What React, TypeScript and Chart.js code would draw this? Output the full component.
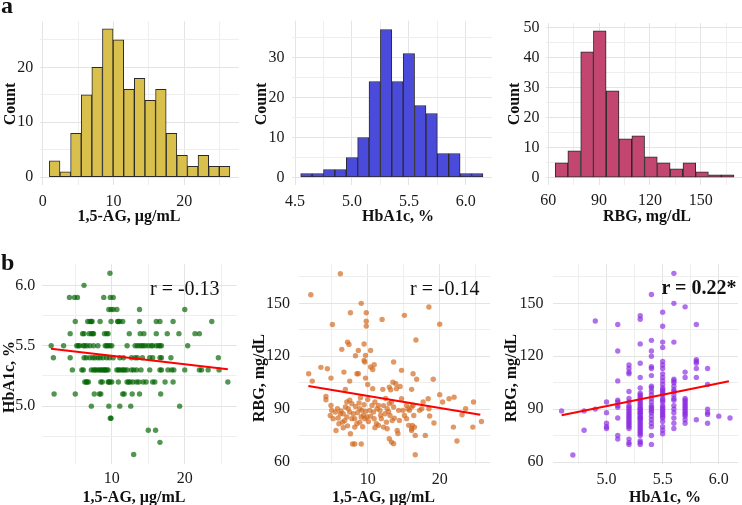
import React, { useEffect, useRef } from "react";
import { Chart, registerables } from "chart.js";

Chart.register(...registerables);

// ---------------- DATA ----------------
// Panel a: histograms (bin centres and counts)
const agBinCenters = [1.69, 3.19, 4.69, 6.19, 7.69, 9.19, 10.69, 12.19, 13.69, 15.19, 16.69, 18.19, 19.69, 21.19, 22.69, 24.19, 25.69];
const agCounts = [3, 1, 8, 15, 20, 27, 25, 16, 18, 14, 16, 8, 4, 2, 4, 2, 2];

const hbBinCenters = [4.6, 4.7, 4.8, 4.9, 5.0, 5.1, 5.2, 5.3, 5.4, 5.5, 5.6, 5.7, 5.8, 5.9, 6.0, 6.1];
const hbCounts = [1, 1, 2, 2, 5, 10, 24, 37, 24, 31, 18, 16, 6, 6, 1, 1];

const rbgBinCenters = [67.8, 75.3, 82.9, 90.4, 98.0, 105.5, 113.1, 120.6, 128.2, 135.7, 143.3, 150.8, 158.4, 165.9];
const rbgCounts = [5, 9, 42, 49, 29, 13, 14, 7, 5, 3, 5, 2, 1, 1];

// Panel b1: HbA1c level -> 1,5-AG values
const b1Rows: [number, number[]][] = [
  [6.1, [9.75]],
  [6.0, [6.2]],
  [5.9, [4.2, 4.9, 5.3, 8.9, 9.8, 10.2]],
  [5.8, [9.6, 9.9, 10.2, 10.7, 13.8, 20.0]],
  [5.7, [5.0, 6.7, 7.0, 7.2, 7.3, 8.4, 9.9, 10.8, 10.9, 11.1, 11.5, 13.8, 16.1, 16.6, 18.4, 23.7]],
  [5.6, [4.3, 6.0, 6.2, 6.9, 7.2, 7.4, 7.5, 9.0, 9.3, 9.5, 12.4, 13.9, 14.4, 16.1, 17.6, 19.2, 21.4, 22.0]],
  [5.5, [1.7, 3.4, 5.2, 5.4, 5.6, 6.1, 6.3, 6.6, 7.0, 7.5, 8.1, 9.1, 9.3, 9.5, 9.75, 10.0, 12.1, 13.2, 13.5, 13.8, 14.1, 14.3, 14.6, 15.0, 15.4, 15.6, 16.1, 16.4, 16.6, 16.8, 20.4]],
  [5.4, [2.0, 4.3, 6.2, 6.5, 7.0, 7.4, 7.7, 8.1, 8.4, 8.8, 9.3, 9.7, 10.2, 11.1, 11.6, 12.7, 13.2, 13.5, 14.2, 15.2, 15.6, 16.6, 16.8, 18.1, 24.6]],
  [5.3, [4.6, 5.9, 6.1, 7.2, 7.5, 7.7, 7.9, 8.2, 8.4, 8.6, 8.8, 9.0, 9.1, 9.3, 9.5, 10.7, 10.9, 11.1, 11.4, 11.6, 11.8, 12.1, 12.7, 13.0, 13.4, 14.0, 15.2, 16.6, 16.8, 17.7, 18.2, 18.5, 20.0, 22.0, 22.3, 23.2, 24.7]],
  [5.2, [6.3, 6.5, 6.6, 6.8, 8.5, 8.7, 9.5, 9.6, 9.75, 10.0, 10.9, 12.1, 12.3, 12.5, 12.9, 13.4, 13.7, 14.3, 14.7, 15.6, 15.9, 17.3, 18.4, 25.9]],
  [5.1, [2.1, 5.0, 7.6, 8.3, 8.5, 11.5, 11.7, 12.8, 13.8, 16.7]],
  [5.0, [7.2, 9.6, 11.1, 12.6, 19.3]],
  [4.9, [9.8, 9.9]],
  [4.8, [15.0, 16.0]],
  [4.7, [16.6]],
  [4.6, [13.0]],
];
const b1Fit: [number, number][] = [[1.67, 5.475], [25.9, 5.306]];

// Panel b2: (1,5-AG, RBG)
const b2Points: [number, number][] = [
  [6.2, 166.8], [2.1, 154.9], [9.1, 150.0], [7.6, 144.7], [9.8, 144.7], [5.1, 138.0], [9.8, 139.8], [9.8, 137.1], [12.0, 140.9],
  [7.2, 128.0], [7.4, 126.7], [9.5, 126.9], [6.4, 123.9], [8.7, 123.3], [10.4, 123.3], [8.3, 120.3], [9.7, 120.5], [9.5, 117.6],
  [9.6, 116.7], [10.9, 115.2], [10.4, 113.9], [10.7, 112.5], [13.6, 116.7],
  [1.8, 110.1], [3.5, 113.7], [4.4, 112.9], [6.7, 111.0], [8.5, 110.1], [8.7, 110.1], [4.9, 107.6], [7.5, 105.9], [9.7, 107.6],
  [10.0, 104.0], [10.7, 101.6], [12.1, 101.2], [2.3, 105.9], [6.9, 101.2], [13.0, 102.5], [13.2, 101.0], [13.5, 105.3],
  [4.2, 97.2], [4.2, 95.3], [4.9, 92.1], [5.0, 89.3], [4.8, 86.4],
  [5.2, 84.6], [5.6, 77.9], [6.0, 81.7], [6.5, 82.6], [6.6, 79.4], [5.5, 88.3], [6.2, 87.4], [5.8, 90.2], [6.6, 87.4], [6.9, 91.2],
  [7.1, 94.0], [7.5, 95.0], [7.8, 93.1], [7.3, 90.2], [7.5, 88.3], [7.1, 85.5], [7.8, 84.6], [8.0, 87.4], [8.2, 84.6], [8.5, 81.7],
  [8.2, 79.8], [8.9, 82.6], [9.1, 85.5], [9.2, 89.3], [9.4, 86.4], [9.6, 84.6], [8.9, 90.2], [9.5, 92.5], [9.9, 85.5], [10.3, 89.3],
  [10.6, 92.1], [10.8, 88.3], [11.0, 94.0], [11.3, 90.2], [11.5, 92.1], [11.7, 89.3], [11.2, 81.7], [11.5, 80.8], [11.9, 84.6],
  [12.4, 87.4], [12.7, 90.2], [13.0, 93.1], [13.3, 94.0], [12.6, 82.6], [12.7, 78.9], [12.2, 79.8], [13.1, 86.4], [13.6, 91.2],
  [13.0, 73.2], [13.3, 71.3], [13.6, 70.4], [7.6, 76.0], [7.9, 70.2], [8.2, 70.2], [9.1, 70.2],
  [5.9, 85.0], [6.3, 89.0], [6.8, 83.5], [7.2, 80.5], [8.6, 88.0], [8.8, 93.5], [9.3, 80.0], [9.7, 88.8], [10.1, 83.0], [10.4, 86.0],
  [10.9, 84.5], [11.0, 79.5], [11.8, 86.5], [12.2, 92.0], [12.9, 88.5], [13.4, 83.5], [10.0, 95.5], [9.0, 96.5], [12.5, 96.0], [8.3, 91.5],
  [18.5, 147.9], [15.1, 143.2], [20.0, 138.2], [16.7, 129.2], [14.7, 112.0], [16.3, 110.1], [16.8, 106.9], [19.1, 106.9],
  [13.9, 104.4], [14.0, 101.6], [14.5, 102.9], [16.1, 101.2], [20.0, 98.2], [20.4, 94.0], [21.3, 95.9], [22.0, 96.8], [18.4, 95.9],
  [17.7, 94.0], [24.7, 94.0], [23.6, 90.2], [23.1, 86.8], [25.8, 83.0], [21.9, 79.8], [24.6, 79.8], [22.4, 71.9], [16.6, 64.1],
  [19.2, 82.1], [18.0, 75.1], [18.6, 86.1], [18.5, 90.2], [17.5, 90.2], [17.2, 89.3],
  [14.3, 89.3], [14.4, 83.6], [14.1, 77.9], [15.4, 92.1], [15.6, 90.2], [15.8, 89.3], [16.1, 91.2], [16.3, 92.1], [15.1, 86.4],
  [15.4, 84.6], [15.7, 80.8], [16.1, 78.9], [16.2, 80.8], [16.4, 86.4], [16.5, 79.8], [16.6, 75.1], [16.1, 77.9], [14.7, 95.9],
  [14.9, 89.3], [13.7, 84.9], [14.2, 76.1],
];
const b2Fit: [number, number][] = [[1.76, 103.1], [25.64, 86.8]];

// Panel b3: HbA1c level -> RBG values
const b3Levels = [4.6, 4.7, 4.8, 4.9, 5.0, 5.1, 5.2, 5.3, 5.4, 5.5, 5.6, 5.7, 5.8, 5.9, 6.0, 6.1];
const b3Rbg: number[][] = [
  [89],
  [64],
  [78, 89],
  [140, 90],
  [94, 88, 82, 80, 79],
  [138, 123, 106, 95, 94, 92, 91, 85, 75, 73],
  [115, 113, 111, 110, 100, 96, 94, 92, 91, 90, 89, 88, 87, 86, 85, 84, 83, 82, 81, 80, 79, 73, 71, 70],
  [143, 141, 127, 116, 108, 102, 99, 98, 97, 96, 95, 94, 93, 92, 91, 90, 90, 89, 88, 88, 87, 86, 85, 85, 84, 83, 82, 81, 80, 79, 78, 77, 76, 75, 72, 71, 70],
  [155, 129, 123, 120, 114, 113, 109, 103, 102, 100, 98, 96, 94, 92, 91, 90, 89, 88, 86, 84, 82, 80, 75, 70],
  [145, 137, 128, 125, 117, 115, 113, 110, 108, 106, 104, 102, 101, 100, 99, 98, 96, 95, 94, 92, 91, 90, 89, 88, 87, 86, 85, 83, 80, 78, 76],
  [167, 150, 128, 107, 106, 105, 103, 101, 100, 98, 96, 95, 92, 90, 88, 85, 82, 79],
  [148, 111, 108, 96, 95, 94, 93, 92, 91, 90, 89, 88, 87, 86, 84, 82],
  [138, 118, 117, 116, 113, 108, 84],
  [113, 104, 90, 88, 87, 82],
  [86],
  [85],
];
const b3Fit: [number, number][] = [[4.6, 86.5], [6.09, 105.8]];

// Tick values (all grid lines) and labelled (major) ticks
const agHistTicks = [0, 5, 10, 15, 20, 25];
const agHistLabels = [0, 10, 20];
const countTicksA1 = [0, 5, 10, 15, 20, 25];
const countLabelsA1 = [0, 10, 20];
const hbHistTicks = [4.5, 4.75, 5, 5.25, 5.5, 5.75, 6];
const hbHistLabels = [4.5, 5, 5.5, 6];
const countTicksA2 = [0, 5, 10, 15, 20, 25, 30, 35];
const countLabelsA2 = [0, 10, 20, 30];
const rbgHistTicks = [60, 75, 90, 105, 120, 135, 150, 165];
const rbgHistLabels = [60, 90, 120, 150];
const countTicksA3 = [0, 5, 10, 15, 20, 25, 30, 35, 40, 45, 50];
const countLabelsA3 = [0, 10, 20, 30, 40, 50];
const agScatterTicks = [5, 10, 15, 20, 25];
const agScatterLabels = [10, 20];
const hbScatterTicks = [4.75, 5, 5.25, 5.5, 5.75, 6];
const hbScatterLabels = [5, 5.5, 6];
const rbgScatterTicks = [60, 75, 90, 105, 120, 135, 150, 165];
const rbgScatterLabels = [60, 90, 120, 150];

// ---------------- STYLE ----------------
const FONT = "'Liberation Serif', 'Times New Roman', serif";
const GRID_MAJOR = "#E4E4E4";
const GRID_MINOR = "#EEEEEE";
const TICK_COLOR = "#1a1a1a";
const OUTLINE = "#2a2a2a";

Chart.defaults.font.family = FONT;

type AxisSpec = {
  range: [number, number];
  ticks: number[];
  labels: number[];
  decimals: number;
  pad: number;
};

function linearAxis(spec: AxisSpec, horizontal: boolean, size: number) {
  return {
    type: "linear",
    min: spec.range[0],
    max: spec.range[1],
    offset: false,
    border: { display: false },
    grid: {
      offset: false,
      drawTicks: false,
      color: (ctx: any) => (ctx.tick && spec.labels.includes(ctx.tick.value) ? GRID_MAJOR : GRID_MINOR),
      lineWidth: 1,
    },
    ticks: {
      autoSkip: false,
      maxRotation: 0,
      minRotation: 0,
      padding: spec.pad,
      color: TICK_COLOR,
      font: { family: FONT, size: 16 },
      callback: (v: any) => (spec.labels.includes(Number(v)) ? Number(v).toFixed(spec.decimals) : ""),
    },
    afterBuildTicks: (s: any) => {
      s.ticks = spec.ticks.map((v) => ({ value: v }));
    },
    afterFit: (s: any) => {
      if (horizontal) s.height = size;
      else s.width = size;
      s.paddingLeft = 0;
      s.paddingRight = 0;
      s.paddingTop = 0;
      s.paddingBottom = 0;
    },
  };
}

type PanelSpec = {
  box: [number, number, number, number]; // canvas left, top, width, height
  plot: [number, number, number, number]; // plot area left, top, right, bottom (page px)
  x: AxisSpec;
  y: AxisSpec;
};

function baseOptions(p: PanelSpec) {
  const [cx, cy, cw, ch] = p.box;
  const [L, T, R, B] = p.plot;
  return {
    animation: false,
    responsive: false,
    maintainAspectRatio: false,
    events: [],
    layout: { padding: { left: 0, top: T - cy, right: cx + cw - R, bottom: 0 } },
    plugins: { legend: { display: false }, tooltip: { enabled: false }, title: { display: false } },
    scales: {
      x: linearAxis(p.x, true, cy + ch - B),
      y: linearAxis(p.y, false, L - cx),
    },
  };
}

function histConfig(p: PanelSpec, centers: number[], counts: number[], fill: string) {
  return {
    type: "bar",
    data: {
      datasets: [
        {
          data: centers.map((c, i) => ({ x: c, y: counts[i] })),
          backgroundColor: fill,
          borderColor: OUTLINE,
          borderWidth: 1,
          borderSkipped: false,
          barPercentage: 1,
          categoryPercentage: 1,
          grouped: false,
        },
      ],
    },
    options: baseOptions(p),
  };
}

function scatterConfig(p: PanelSpec, pts: { x: number; y: number }[], fit: [number, number][], color: string) {
  return {
    type: "scatter",
    data: {
      datasets: [
        {
          data: fit.map(([x, y]) => ({ x, y })),
          showLine: true,
          borderColor: "#FF0000",
          borderWidth: 2,
          pointRadius: 0,
          fill: false,
        },
        {
          data: pts,
          pointRadius: 2.7,
          pointBackgroundColor: color,
          backgroundColor: color,
          pointBorderWidth: 0,
          pointBorderColor: "rgba(0,0,0,0)",
          borderWidth: 0,
        },
      ],
    },
    options: baseOptions(p),
  };
}

// ---------------- PANELS ----------------
const panelA1: PanelSpec = {
  box: [0, 0, 245, 212],
  plot: [40.3, 21.4, 238.9, 184.7],
  x: { range: [-0.34, 27.71], ticks: agHistTicks, labels: agHistLabels, decimals: 0, pad: 7 },
  y: { range: [-1.35, 28.35], ticks: countTicksA1, labels: countLabelsA1, decimals: 0, pad: 7 },
};
const panelA2: PanelSpec = {
  box: [248, 0, 247, 212],
  plot: [291.6, 20.7, 492, 185],
  x: { range: [4.47, 6.23], ticks: hbHistTicks, labels: hbHistLabels, decimals: 1, pad: 7 },
  y: { range: [-1.87, 39.2], ticks: countTicksA2, labels: countLabelsA2, decimals: 0, pad: 7 },
};
const panelA3: PanelSpec = {
  box: [500, 0, 242, 212],
  plot: [546.1, 23, 742, 184.6],
  x: { range: [58.7, 174.4], ticks: rbgHistTicks, labels: rbgHistLabels, decimals: 0, pad: 7 },
  y: { range: [-2.27, 51.6], ticks: countTicksA3, labels: countLabelsA3, decimals: 0, pad: 6.5 },
};
const panelB1: PanelSpec = {
  box: [0, 250, 245, 240],
  plot: [41.7, 264.2, 236.6, 463.5],
  x: { range: [0.4, 27.1], ticks: agScatterTicks, labels: agScatterLabels, decimals: 0, pad: 6 },
  y: { range: [4.525, 6.175], ticks: hbScatterTicks, labels: hbScatterLabels, decimals: 1, pad: 6.5 },
};
const panelB2: PanelSpec = {
  box: [248, 250, 247, 240],
  plot: [299.3, 264.2, 490.1, 464],
  x: { range: [0.5, 27.0], ticks: agScatterTicks, labels: agScatterLabels, decimals: 0, pad: 6 },
  y: { range: [58.87, 172.2], ticks: rbgScatterTicks, labels: rbgScatterLabels, decimals: 0, pad: 9.3 },
};
const panelB3: PanelSpec = {
  box: [500, 250, 242, 240],
  plot: [553.2, 264.2, 742, 464],
  x: { range: [4.525, 6.171], ticks: hbScatterTicks, labels: hbScatterLabels, decimals: 1, pad: 6 },
  y: { range: [58.87, 172.2], ticks: rbgScatterTicks, labels: rbgScatterLabels, decimals: 0, pad: 9.7 },
};

const b1Data = b1Rows.flatMap(([hb, ags]) => ags.map((ag) => ({ x: ag, y: hb })));
const b2Data = b2Points.map(([ag, rbg]) => ({ x: ag, y: rbg }));
const b3Data = b3Levels.flatMap((hb, i) => b3Rbg[i].map((r) => ({ x: hb, y: r })));

function ChartCanvas({ box, make }: { box: [number, number, number, number]; make: () => any }) {
  const ref = useRef<HTMLCanvasElement>(null);
  useEffect(() => {
    const chart = new Chart(ref.current as HTMLCanvasElement, make());
    return () => chart.destroy();
  }, []);
  return (
    <canvas
      ref={ref}
      width={box[2]}
      height={box[3]}
      style={{ position: "absolute", left: box[0], top: box[1], width: box[2], height: box[3] }}
    />
  );
}

function Label({ text, x, y, size, bold, mode }: { text: string; x: number; y: number; size: number; bold?: boolean; mode: "left" | "center" | "rot" }) {
  // y: baseline for left/center; centre for rot
  const common: React.CSSProperties = {
    position: "absolute",
    fontFamily: FONT,
    fontSize: size,
    fontWeight: bold ? "bold" : "normal",
    lineHeight: 1,
    whiteSpace: "nowrap",
    color: "#111",
  };
  const baseOff = size * 0.8375; // baseline offset from top for line-height 1
  if (mode === "rot") {
    return (
      <div style={{ ...common, left: x, top: y, transform: "translate(-50%, -50%) rotate(-90deg)" }}>{text}</div>
    );
  }
  if (mode === "center") {
    return (
      <div style={{ ...common, left: x - 150, width: 300, textAlign: "center", top: y - baseOff }}>{text}</div>
    );
  }
  return <div style={{ ...common, left: x, top: y - baseOff }}>{text}</div>;
}

export default function App() {
  return (
    <div
      style={{
        position: "absolute",
        left: 0,
        top: 0,
        width: 742,
        height: 505,
        overflow: "hidden",
        background: "#ffffff",
      }}
    >
      <ChartCanvas box={panelA1.box} make={() => histConfig(panelA1, agBinCenters, agCounts, "#D9C04C")} />
      <ChartCanvas box={panelA2.box} make={() => histConfig(panelA2, hbBinCenters, hbCounts, "#4B4BDB")} />
      <ChartCanvas box={panelA3.box} make={() => histConfig(panelA3, rbgBinCenters, rbgCounts, "#C2466F")} />
      <ChartCanvas box={panelB1.box} make={() => scatterConfig(panelB1, b1Data, b1Fit, "rgba(0,100,0,0.68)")} />
      <ChartCanvas box={panelB2.box} make={() => scatterConfig(panelB2, b2Data, b2Fit, "rgba(210,105,30,0.68)")} />
      <ChartCanvas box={panelB3.box} make={() => scatterConfig(panelB3, b3Data, b3Fit, "rgba(138,43,226,0.68)")} />

      <Label text="a" x={1} y={13.3} size={24} bold mode="left" />
      <Label text="b" x={1} y={270} size={24} bold mode="left" />

      <Label text="Count" x={9.5} y={104} size={16} bold mode="rot" />
      <Label text="Count" x={261} y={104} size={16} bold mode="rot" />
      <Label text="Count" x={514} y={104} size={16} bold mode="rot" />
      <Label text="HbA1c, %" x={9} y={376.7} size={16} bold mode="rot" />
      <Label text="RBG, mg/dL" x={259.3} y={377.5} size={16} bold mode="rot" />
      <Label text="RBG, mg/dL" x={510.8} y={377.5} size={16} bold mode="rot" />

      <Label text="1,5-AG, µg/mL" x={129} y={221} size={16} bold mode="center" />
      <Label text="HbA1c, %" x={398} y={221} size={16} bold mode="center" />
      <Label text="RBG, mg/dL" x={647} y={221} size={16} bold mode="center" />
      <Label text="1,5-AG, µg/mL" x={134} y={502.5} size={16} bold mode="center" />
      <Label text="1,5-AG, µg/mL" x={383.5} y={502.5} size={16} bold mode="center" />
      <Label text="HbA1c, %" x={665} y={502.5} size={16} bold mode="center" />

      <Label text="r = -0.13" x={150} y={294.3} size={20} mode="left" />
      <Label text="r = -0.14" x={410} y={295} size={20} mode="left" />
      <Label text="r = 0.22*" x={661.5} y={294} size={20} bold mode="left" />
    </div>
  );
}
